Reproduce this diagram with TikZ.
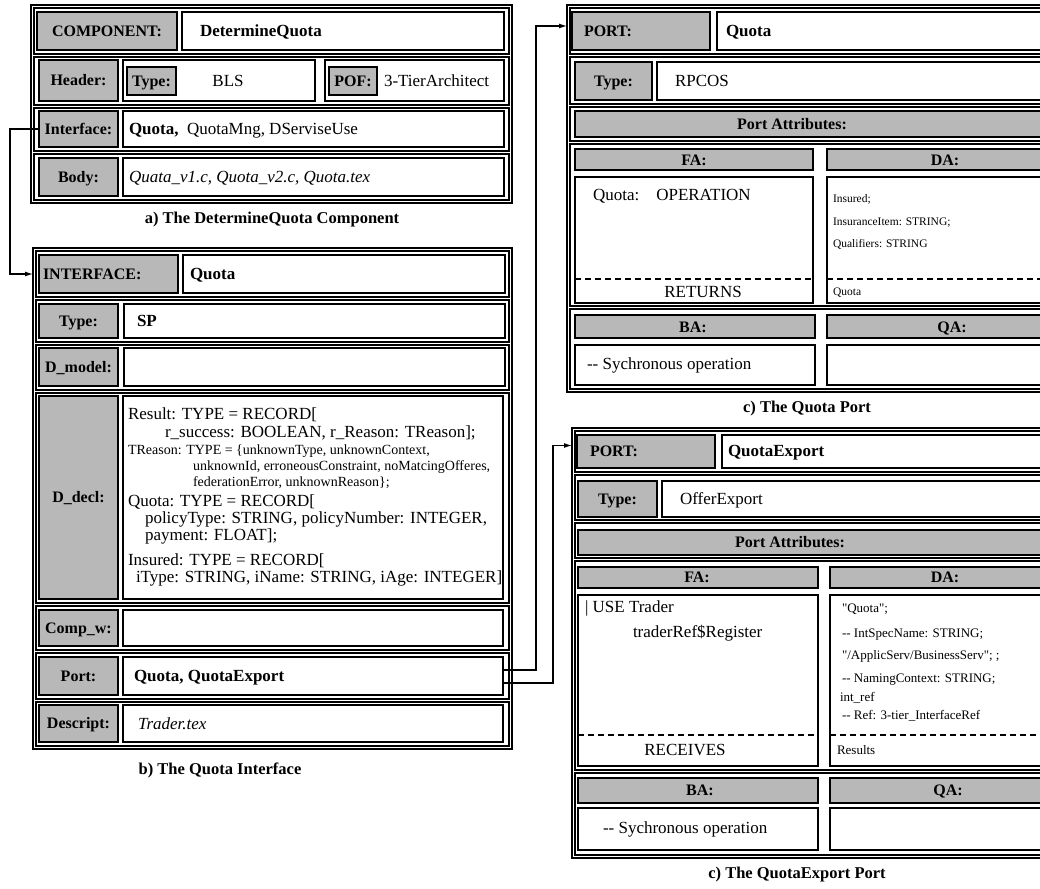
\documentclass[tikz,border=0pt]{standalone}
\usepackage{fontspec}
\setmainfont{Liberation Serif}
\newfontfamily\pser{Liberation Serif}
\usetikzlibrary{arrows.meta,calc}
\newcommand\bx[7]{\pgfmathsetmacro\bxw{#5-#3}\pgfmathsetmacro\bxh{#6-#4}\node[#2,minimum width=\bxw pt,minimum height=\bxh pt,anchor=north west] (#1) at (#3,#4) {#7};}
\newcommand\tx[5]{\node[#2,anchor=#3] (#1) at (#4) {#5};}
\begin{document}
\begin{tikzpicture}[x=1pt,y=-1pt,
  every node/.style={inner sep=0pt,outer sep=0pt},
  frame/.style={draw,line width=1.3pt},
  rowbox/.style={draw,line width=1.1pt},
  lab/.style={draw,line width=1.4pt,fill=black!28},
  val/.style={draw,line width=1.3pt,fill=white},
  t17/.style={font=\fontsize{17}{19}\selectfont,text height=14.2pt,text depth=3pt},
  bt17/.style={font=\fontsize{17}{19}\selectfont\bfseries,text height=14.2pt,text depth=3pt},
  it17/.style={font=\fontsize{17}{19}\selectfont\itshape,text height=14.2pt,text depth=3pt},
  t14/.style={font=\fontsize{14}{16}\selectfont,text height=12.2pt,text depth=3pt},
  t13/.style={font=\fontsize{13}{15}\selectfont,text height=11.6pt,text depth=3pt},
  t115/.style={font=\fontsize{11.5}{13}\selectfont,text height=10.6pt,text depth=3pt},
  b16/.style={font=\fontsize{16}{18}\selectfont\bfseries,text height=13.6pt,text depth=3pt},
  capt/.style={font=\fontsize{16.5}{18}\selectfont\bfseries},
  sep/.style={line width=1.2pt,dash pattern=on 6pt off 4pt},
  conn/.style={draw,line width=1.2pt,-{Latex[length=8pt,width=5pt]}}]
\useasboundingbox (0,0) rectangle (1040,888);
\clip (0,0) rectangle (1040,888);
\fill[white] (0,0) rectangle (1040,888);

% ---------- a) Component ----------
\bx{cF}{frame}{31}{5}{512}{203}{}
\bx{cR1}{rowbox}{34}{8}{509}{54}{}
\bx{cR2}{rowbox}{34}{57}{509}{105}{}
\bx{cR3}{rowbox}{34}{108}{509}{151}{}
\bx{cR4}{rowbox}{34}{154}{509}{200}{}
\bx{cCompL}{lab,b16}{37}{12}{177}{50}{COMPONENT:}
\bx{cCompV}{val}{182}{12}{504}{50}{}
\tx{cCompT}{bt17}{west}{200,31}{DetermineQuota}
\bx{cHeadL}{lab,b16}{39}{60}{118}{101}{Header:}
\bx{cTypeB}{val}{123}{60}{315}{101}{}
\bx{cTypeL}{lab,b16}{127}{67}{176}{95}{Type:}
\tx{cTypeT}{t17}{center}{228,81}{BLS}
\bx{cPofB}{val}{325}{60}{504}{101}{}
\bx{cPofL}{lab,b16}{329}{67}{377}{95}{POF:}
\tx{cPofT}{t17}{west}{384,81}{3-TierArchitect}
\bx{cIntL}{lab,b16}{39}{111}{118}{147}{Interface:}
\bx{cIntV}{val}{123}{111}{504}{147}{}
\tx{cIntT}{t17}{west}{129,129}{{\bfseries Quota,}\ \ QuotaMng, DServiseUse}
\bx{cBodyL}{lab,b16}{39}{158}{118}{196}{Body:}
\bx{cBodyV}{val}{123}{158}{504}{196}{}
\tx{cBodyT}{it17}{west}{129,177}{Quata\_v1.c, Quota\_v2.c, Quota.tex}
\node[capt] (capA) at (272,220) {a) The DetermineQuota Component};

% ---------- b) Interface ----------
\bx{iF}{frame}{33}{248}{512}{749}{}
\bx{iR1}{rowbox}{36}{251}{509}{297}{}
\bx{iR2}{rowbox}{36}{300}{509}{342}{}
\bx{iR3}{rowbox}{36}{345}{509}{390}{}
\bx{iR4}{rowbox}{36}{393}{509}{603}{}
\bx{iR5}{rowbox}{36}{606}{509}{650}{}
\bx{iR6}{rowbox}{36}{653}{509}{699}{}
\bx{iR7}{rowbox}{36}{702}{509}{746}{}
\bx{iIfL}{lab}{39}{255}{178}{293}{}
\tx{iIfLT}{b16}{west}{43,274}{INTERFACE:}
\bx{iIfV}{val}{183}{255}{505}{293}{}
\tx{iIfT}{bt17}{west}{190,274}{Quota}
\bx{iTypeL}{lab,b16}{39}{304}{118}{338}{Type:}
\bx{iTypeV}{val}{124}{304}{505}{338}{}
\tx{iTypeT}{bt17}{west}{137,321}{SP}
\bx{iDmL}{lab,b16}{39}{348}{118}{386}{D\_model:}
\bx{iDmV}{val}{124}{348}{505}{386}{}
\bx{iDdL}{lab,b16}{39}{396}{118}{599}{D\_decl:}
\bx{iDdV}{val}{123}{396}{503}{599}{}
\tx{d1}{t17}{west}{128,414}{Result: TYPE = RECORD[}
\tx{d2}{t17}{west}{165,432}{r\_success: BOOLEAN, r\_Reason: TReason];}
\tx{d3}{t14}{west}{128,450}{TReason: TYPE = \{unknownType, unknownContext,}
\tx{d4}{t14}{west}{193,466}{unknownId, erroneousConstraint, noMatcingOfferes,}
\tx{d5}{t14}{west}{193,482}{federationError, unknownReason\};}
\tx{d6}{t17}{west}{128,501}{Quota: TYPE = RECORD[}
\tx{d7}{t17}{west}{145,518}{policyType: STRING, policyNumber: INTEGER,}
\tx{d8}{t17}{west}{145,535}{payment: FLOAT];}
\tx{d9}{t17}{west}{128,560}{Insured: TYPE = RECORD[}
\tx{d10}{t17}{west}{136,577}{iType: STRING, iName: STRING, iAge: INTEGER]}
\bx{iCwL}{lab,b16}{39}{610}{118}{646}{Comp\_w:}
\bx{iCwV}{val}{123}{610}{503}{646}{}
\bx{iPortL}{lab,b16}{39}{657}{118}{695}{Port:}
\bx{iPortV}{val}{123}{657}{503}{695}{}
\tx{iPortT}{bt17}{west}{134,676}{Quota, QuotaExport}
\bx{iDescL}{lab,b16}{39}{705}{118}{742}{Descript:}
\bx{iDescV}{val}{123}{705}{503}{742}{}
\tx{iDescT}{it17}{west}{138,724}{Trader.tex}
\node[capt] (capB) at (220,770) {b) The Quota Interface};

% ---------- c) Quota Port ----------
\bx{qF}{frame}{567}{5}{1050}{392}{}
\bx{qR1}{rowbox}{570}{8}{1047}{54}{}
\bx{qR2}{rowbox}{570}{57}{1047}{104}{}
\bx{qR3}{rowbox}{570}{107}{1047}{141}{}
\bx{qR4}{rowbox}{570}{144}{1047}{306}{}
\bx{qR5}{rowbox}{570}{309}{1047}{389}{}
\bx{qPortL}{lab}{572}{12}{710}{50}{}
\tx{qPortLT}{b16}{west}{584,31}{PORT:}
\bx{qPortV}{val}{717}{12}{1045}{50}{}
\tx{qPortT}{bt17}{west}{726,31}{Quota}
\bx{qTypeL}{lab,b16}{575}{62}{652}{100}{Type:}
\bx{qTypeV}{val}{657}{62}{1045}{100}{}
\tx{qTypeT}{t17}{west}{675,81}{RPCOS}
\bx{qPaL}{lab}{575}{111}{1045}{137}{}
\tx{qPaT}{b16}{center}{792,124}{Port Attributes:}
\bx{qFaL}{lab}{575}{149}{813}{170}{}
\tx{qFaT}{b16}{center}{694,160}{FA:}
\bx{qDaL}{lab}{827}{149}{1045}{170}{}
\tx{qDaT}{b16}{center}{945,160}{DA:}
\bx{qFaV}{val}{575}{177}{813}{303}{}
\draw[sep] (575,279) -- (813,279);
\tx{qFa1}{t17}{west}{593,195}{Quota:\ \ \ \ OPERATION}
\tx{qFa2}{t17}{center}{703,292}{RETURNS}
\bx{qDaV}{val}{827}{177}{1045}{303}{}
\draw[sep] (827,279) -- (1045,279);
\tx{qDa1}{t115}{west}{833,199}{Insured;}
\tx{qDa2}{t115}{west}{833,222}{InsuranceItem: STRING;}
\tx{qDa3}{t115}{west}{833,244}{Qualifiers: STRING}
\tx{qDa4}{t115}{west}{833,292}{Quota}
\bx{qBaL}{lab}{575}{315}{815}{338}{}
\tx{qBaT}{b16}{center}{693,327}{BA:}
\bx{qQaL}{lab}{827}{315}{1045}{338}{}
\tx{qQaT}{b16}{center}{952,327}{QA:}
\bx{qBaV}{val}{575}{345}{815}{385}{}
\tx{qBaVT}{t17}{west}{587,364}{-{}- Sychronous operation}
\bx{qQaV}{val}{827}{345}{1045}{385}{}
\node[capt] (capC) at (807,409) {c) The Quota Port};

% ---------- c) QuotaExport Port ----------
\bx{eF}{frame}{572}{428}{1050}{858}{}
\bx{eR1}{rowbox}{575}{431}{1047}{472}{}
\bx{eR2}{rowbox}{575}{475}{1047}{520}{}
\bx{eR3}{rowbox}{575}{523}{1047}{558}{}
\bx{eR4}{rowbox}{575}{561}{1047}{770}{}
\bx{eR5}{rowbox}{575}{773}{1047}{855}{}
\bx{ePortL}{lab}{577}{435}{715}{468}{}
\tx{ePortLT}{b16}{west}{590,451}{PORT:}
\bx{ePortV}{val}{722}{435}{1045}{468}{}
\tx{ePortT}{bt17}{west}{728,451}{QuotaExport}
\bx{eTypeL}{lab,b16}{578}{481}{657}{517}{Type:}
\bx{eTypeV}{val}{662}{481}{1045}{517}{}
\tx{eTypeT}{t17}{west}{680,499}{OfferExport}
\bx{ePaL}{lab}{578}{530}{1045}{555}{}
\tx{ePaT}{b16}{center}{790,542}{Port Attributes:}
\bx{eFaL}{lab}{578}{567}{818}{588}{}
\tx{eFaT}{b16}{center}{697,577}{FA:}
\bx{eDaL}{lab}{830}{567}{1045}{588}{}
\tx{eDaT}{b16}{center}{945,577}{DA:}
\bx{eFaV}{val}{578}{595}{818}{766}{}
\draw[sep] (578,735) -- (818,735);
\tx{eFa1}{t17}{west}{585,607}{| USE Trader}
\tx{eFa2}{t17}{west}{633,632}{traderRef\$Register}
\tx{eFa3}{t17}{center}{685,750}{RECEIVES}
\bx{eDaV}{val}{830}{595}{1045}{766}{}
\draw[sep] (830,735) -- (1045,735);
\tx{eDa1}{t13}{west}{842,608}{\pser "Quota";}
\tx{eDa2}{t13}{west}{842,633}{-{}- IntSpecName: STRING;}
\tx{eDa3}{t13}{west}{842,655}{\pser "/ApplicServ/BusinessServ"; ;}
\tx{eDa4}{t13}{west}{842,678}{-{}- NamingContext: STRING;}
\tx{eDa5}{t13}{west}{840,697}{int\_ref}
\tx{eDa6}{t13}{west}{842,715}{-{}- Ref: 3-tier\_InterfaceRef}
\tx{eDa7}{t13}{west}{837,750}{Results}
\bx{eBaL}{lab}{578}{778}{818}{803}{}
\tx{eBaT}{b16}{center}{700,790}{BA:}
\bx{eQaL}{lab}{830}{778}{1045}{803}{}
\tx{eQaT}{b16}{center}{948,790}{QA:}
\bx{eBaV}{val}{578}{808}{818}{850}{}
\tx{eBaVT}{t17}{west}{603,828}{-{}- Sychronous operation}
\bx{eQaV}{val}{830}{808}{1045}{850}{}
\node[capt] (capD) at (797,875) {c) The QuotaExport Port};

% ---------- connectors ----------
\draw[conn,shorten >=6pt] (cIntL.west) -- ++(-29,0) |- (iIfL.west);
\draw[conn,shorten >=5pt] ([yshift=6pt]iPortV.east) -- ++(33,0) |- ([yshift=5pt]qPortL.west);
\draw[conn,shorten >=5pt] ([yshift=-7pt]iPortV.east) -- ++(50,0) |- ([yshift=6pt]ePortL.west);
\end{tikzpicture}
\end{document}
